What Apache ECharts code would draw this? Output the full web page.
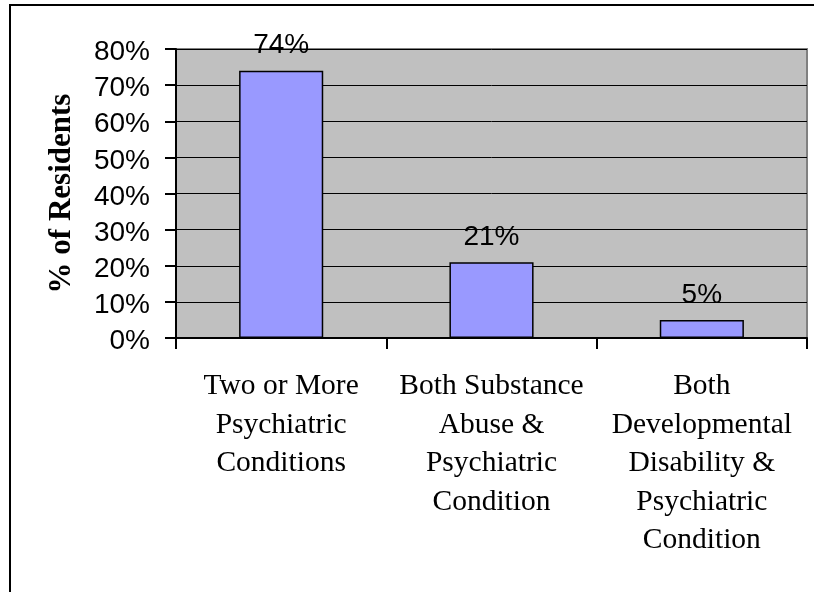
<!DOCTYPE html>
<html>
<head>
<meta charset="utf-8">
<script src="https://cdn.jsdelivr.net/npm/echarts@6/dist/echarts.min.js"></script>
<style>
  html, body { margin: 0; padding: 0; background: #ffffff; }
  #chart { width: 814px; height: 592px; }
</style>
</head>
<body>
<div id="chart"></div>
<script>
// Co-occurring conditions among residents
const categories = [
  'Two or More\nPsychiatric\nConditions',
  'Both Substance\nAbuse &\nPsychiatric\nCondition',
  'Both\nDevelopmental\nDisability &\nPsychiatric\nCondition'
];
const residentShare = [74, 21, 5];
const yTicks = { min: 0, max: 80, interval: 10 };
const yTitle = '% of Residents';

const SANS = '"Liberation Sans", Arial, sans-serif';
const SERIF = '"Liberation Serif", "Times New Roman", serif';

const chart = echarts.init(document.getElementById('chart'), null, { renderer: 'canvas' });

chart.setOption({
  animation: false,
  backgroundColor: '#ffffff',
  graphic: [{
    type: 'rect',
    shape: { x: 10, y: 5, width: 1000, height: 800 },
    style: { fill: 'none', stroke: '#000000', lineWidth: 2 },
    silent: true
  }],
  grid: {
    left: 176, right: 7, top: 49, bottom: 254,
    show: true,
    backgroundColor: '#C0C0C0',
    borderColor: '#808080',
    borderWidth: 2
  },
  xAxis: {
    type: 'category',
    data: categories,
    boundaryGap: true,
    axisLine: { show: true, lineStyle: { color: '#000000', width: 2 } },
    axisTick: { show: true, alignWithLabel: false, length: 11, lineStyle: { color: '#000000', width: 2 } },
    axisLabel: {
      interval: 0,
      margin: 29,
      fontFamily: SERIF,
      fontSize: 29.5,
      lineHeight: 38.5,
      color: '#000000',
      align: 'center'
    },
    splitLine: { show: false }
  },
  yAxis: {
    type: 'value',
    min: yTicks.min,
    max: yTicks.max,
    interval: yTicks.interval,
    name: yTitle,
    nameLocation: 'middle',
    nameRotate: 90,
    nameGap: 99,
    nameTextStyle: { fontFamily: SERIF, fontSize: 31, fontWeight: 'bold', color: '#000000' },
    axisLine: { show: true, lineStyle: { color: '#000000', width: 2 } },
    axisTick: { show: true, inside: false, length: 11, lineStyle: { color: '#000000', width: 2 } },
    axisLabel: {
      margin: 26,
      fontFamily: SANS,
      fontSize: 28,
      color: '#000000',
      formatter: v => '{t|' + v + '%}',
      rich: {
        t: { fontFamily: SANS, fontSize: 28, color: '#000000', padding: [7, 0, 0, 0] }
      }
    },
    splitLine: { show: true, lineStyle: { color: '#000000', width: 1 } }
  },
  series: [{
    type: 'bar',
    data: residentShare,
    barWidth: '40%',
    itemStyle: { color: '#9999FF', borderColor: '#000000', borderWidth: 1.5 },
    label: {
      show: true,
      position: 'top',
      distance: 11,
      fontFamily: SANS,
      fontSize: 28,
      color: '#000000',
      formatter: '{c}%'
    }
  }]
});
</script>
</body>
</html>
